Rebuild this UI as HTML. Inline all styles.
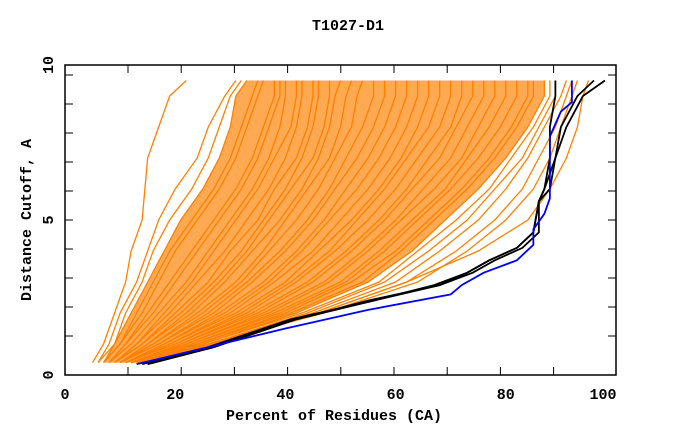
<!DOCTYPE html>
<html><head><meta charset="utf-8"><style>
body{margin:0;background:#fff}
svg{display:block;font-family:"Liberation Mono",monospace;font-weight:bold}
</style></head><body>
<svg id="chart" width="680" height="440" viewBox="0 0 680 440">
<text x="348" y="30" font-size="15" text-anchor="middle">T1027-D1</text>
<text x="334" y="420" font-size="15" text-anchor="middle">Percent of Residues (CA)</text>
<text transform="translate(31,220) rotate(-90)" font-size="15" text-anchor="middle">Distance Cutoff, A</text>
<g id="fill"></g>
<g id="marks"></g>
<g id="axes"></g>
</svg>
<script>
const xTicks=[0,20,40,60,80,100];
const yTicks=[0,5,10];
const levels=[0.4,1,2,3,4,5,6,7,8,9,9.5];
const orange=[
[5,7,9,11,12,14,14.5,15,17,19,22],
[6,8,10,13,15,17,20,24,26,29,31],
[6,9,11,14,16,19,23,26,28,30,32],
[7,9,12,15,18,21,25,28,30,31,33],
[7,10,13,16,19,23,27,30,32,34,35],
[7,10,14,17,20,24,28,31,33,35,36],
[8,11,15,19,23,27,31,34,36,38,38],
[8,11,16,20,24,28,32,35,37,39,39],
[8,12,17,22,26,30,34,37,39,40,40],
[9,13,18,23,27,31,35,38,41,42,42],
[9,13,19,24,29,33,37,40,42,43,43],
[9,14,20,26,30,35,38,42,44,45,45],
[9,14,21,27,32,36,40,43,45,46,46],
[10,15,22,28,33,37,41,45,47,48,48],
[10,15,23,29,34,39,43,46,48,49,50],
[10,16,24,31,36,40,44,48,50,51,52],
[10,16,25,32,37,42,46,49,52,53,54],
[10,17,26,33,39,44,48,51,54,56,56],
[10,17,27,34,40,45,49,53,56,58,58],
[11,18,28,36,42,47,51,55,58,60,60],
[11,18,29,37,43,48,53,57,60,62,62],
[11,19,30,38,45,50,55,59,62,64,64],
[11,19,31,40,46,52,57,61,64,66,66],
[11,20,32,41,48,53,58,62,66,68,68],
[11,20,33,42,49,55,60,64,68,70,70],
[12,21,34,44,51,57,62,66,70,72,72],
[12,21,35,45,52,58,63,68,71,74,74],
[12,22,36,47,54,60,65,70,73,76,76],
[12,22,37,48,55,61,67,72,75,78,78],
[12,23,38,50,57,63,69,73,77,80,80],
[12,23,39,51,58,64,70,75,79,82,82],
[13,24,40,52,60,66,72,77,81,84,84],
[13,24,41,54,61,67,73,78,82,85,85],
[13,25,42,55,63,69,75,80,84,87,87],
[13,25,43,57,64,71,77,81,85,88,88],
[13,26,44,58,66,73,78,83,86,89,89],
[13,26,45,60,68,75,80,84,87,90,91],
[13,26,46,62,71,78,83,86,89,91,92],
[13,26,47,64,73,80,85,88,90,92,93],
[14,27,46,62,75,84,88,91,93,94,95]
];
const blackX=[
[15,27,42,55,68,74,78,83,86,86,87,88,88,89,89],
[14,26,41,56,67,73,77,82,85,86,88,89,90,93,96],
[15,27,42,56,68,73,77,82,85,86,87,89,91,94,98]
];
const blackY=[0.35,0.9,1.8,2.4,2.9,3.3,3.7,4.1,4.6,5.6,6,7,8,9,9.5];
const blueX=[13,26,40,55,70,72,76,82,85,85,87,88,88,90,92,92];
const blueY=[0.35,0.9,1.5,2.1,2.6,2.9,3.3,3.7,4.2,4.7,5.2,5.7,7.7,8.5,8.8,9.5];

const X0=65,X1=616,Y0=375,Y1=65;
const sx=v=>X0+v/100*(X1-X0);
const sy=v=>Y0-v/10*(Y0-Y1);
const NS='http://www.w3.org/2000/svg';
const marks=document.getElementById('marks');
const axes=document.getElementById('axes');
const fillG=document.getElementById('fill');
const leftC=orange[3], rightC=orange[33];
const fp=document.createElementNS(NS,'polygon');
const pts=leftC.map((x,i)=>sx(x)+','+sy(levels[i])).concat(rightC.map((x,i)=>sx(x)+','+sy(levels[i])).reverse());
fp.setAttribute('points',pts.join(' '));
fp.setAttribute('fill','#ff8000');fp.setAttribute('fill-opacity','0.68');


fillG.appendChild(fp);
function poly(xs,ys,color,w,name){
  const p=document.createElementNS(NS,'polyline');
  p.setAttribute('points',xs.map((x,i)=>sx(x)+','+sy(ys[i])).join(' '));
  p.setAttribute('fill','none');p.setAttribute('stroke',color);p.setAttribute('stroke-width',w);
  
  
  marks.appendChild(p);
}
orange.forEach((xs,i)=>poly(xs,levels,'#ff8000',1.3,'orange-model-line'));
blackX.forEach((xs,i)=>poly(xs,blackY,'#000',1.8,'black-model-line'));
poly(blueX,blueY,'#0000ff',1.8,'blue-model-line');

const fr=document.createElementNS(NS,'rect');
fr.setAttribute('x',X0);fr.setAttribute('y',Y1);fr.setAttribute('width',X1-X0);fr.setAttribute('height',Y0-Y1);
fr.setAttribute('fill','none');fr.setAttribute('stroke','#000');fr.setAttribute('stroke-width','1.5');


axes.appendChild(fr);
function line(x1,y1,x2,y2){
  const l=document.createElementNS(NS,'line');
  l.setAttribute('x1',x1);l.setAttribute('y1',y1);l.setAttribute('x2',x2);l.setAttribute('y2',y2);
  l.setAttribute('stroke','#000');
  
  
  axes.appendChild(l);
}
for(let k=0;k<9;k++){const x=128+k*53.2;line(x,Y0,x,Y0-8);line(x,Y1,x,Y1+8);}
for(let k=0;k<10;k++){const y=75+k*29;line(X0,y,X0+8,y);line(X1,y,X1-8,y);}
xTicks.forEach(v=>{
  const t=document.createElementNS(NS,'text');
  t.setAttribute('x',v===100?603:sx(v));t.setAttribute('y',399);
  t.setAttribute('font-size','15');t.setAttribute('text-anchor','middle');
  t.textContent=v;
  
  
  axes.appendChild(t);
});
yTicks.forEach(v=>{
  const t=document.createElementNS(NS,'text');
  t.setAttribute('transform','translate(53,'+sy(v)+') rotate(-90)');
  t.setAttribute('font-size','15');t.setAttribute('text-anchor','middle');
  t.textContent=v;
  
  
  axes.appendChild(t);
});
</script>
</body></html>
